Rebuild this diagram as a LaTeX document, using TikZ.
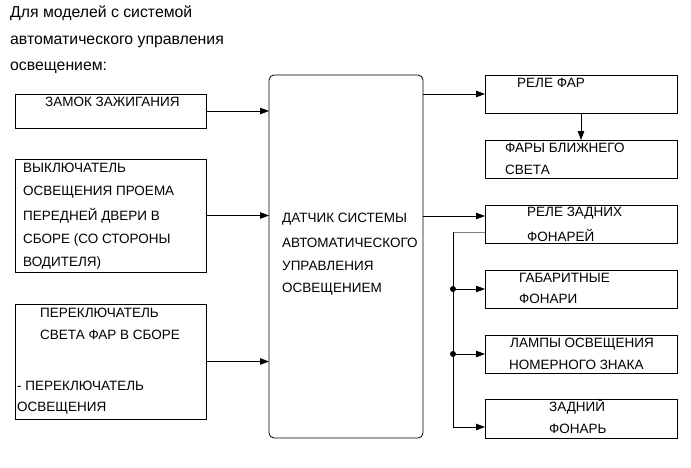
\documentclass[tikz,border=0pt]{standalone}
\usepackage{fontspec}
\setmainfont{Liberation Sans}
\usetikzlibrary{arrows.meta}
\begin{document}
\begin{tikzpicture}[x=1pt,y=-1pt,
  box/.style={draw,line width=0.8pt,rectangle,anchor=north west,inner sep=0pt,outer sep=0pt},
  txt/.style={anchor=west,inner sep=0pt,font=\fontsize{13.5}{13.5}\selectfont},
  head/.style={anchor=west,inner sep=0pt,font=\fontsize{15.8}{15.8}\selectfont},
  arr/.style={line width=0.8pt,-{Triangle[length=9pt,width=6.5pt]}},
  ln/.style={line width=0.8pt},
  dot/.style={circle,fill,inner sep=0pt,minimum size=6pt}]
\useasboundingbox (0,0) rectangle (691,467);
% header
\node[head] (h1) at (10,13) {Для моделей с системой};
\node[head] (h2) at (10,42) {автоматического управления};
\node[head] (h3) at (10,68) {освещением:};
% left boxes
\node[box,minimum width=191pt,minimum height=34pt] (b1) at (15,94) {};
\node[box,minimum width=191pt,minimum height=113pt] (b2) at (15,159) {};
\node[box,minimum width=191pt,minimum height=115pt] (b3) at (15,304) {};
% central
\node[box,rounded corners=5pt,minimum width=154pt,minimum height=363pt] (c) at (269,75) {};
% right boxes
\node[box,minimum width=192pt,minimum height=38pt] (r1) at (485,75) {};
\node[box,minimum width=192pt,minimum height=38pt] (r2) at (485,140) {};
\node[box,minimum width=192pt,minimum height=38pt] (r3) at (485,205) {};
\node[box,minimum width=192pt,minimum height=38pt] (r4) at (485,270) {};
\node[box,minimum width=192pt,minimum height=38pt] (r5) at (485,335) {};
\node[box,minimum width=192pt,minimum height=39pt] (r6) at (485,399) {};
% texts
\node[txt] (t1) at (45,102) {ЗАМОК ЗАЖИГАНИЯ};
\node[txt] (t2a) at (23,168) {ВЫКЛЮЧАТЕЛЬ};
\node[txt] (t2b) at (23,192) {ОСВЕЩЕНИЯ ПРОЕМА};
\node[txt] (t2c) at (23,216) {ПЕРЕДНЕЙ ДВЕРИ В};
\node[txt] (t2d) at (23,240) {СБОРЕ (СО СТОРОНЫ};
\node[txt] (t2e) at (23,263) {ВОДИТЕЛЯ)};
\node[txt] (t3a) at (40,313) {ПЕРЕКЛЮЧАТЕЛЬ};
\node[txt] (t3b) at (40,335) {СВЕТА ФАР В СБОРЕ};
\node[txt] (t3c) at (17,386) {- ПЕРЕКЛЮЧАТЕЛЬ};
\node[txt] (t3d) at (17,408) {ОСВЕЩЕНИЯ};
\node[txt] (tc1) at (282,219) {ДАТЧИК СИСТЕМЫ};
\node[txt] (tc2) at (282,243) {АВТОМАТИЧЕСКОГО};
\node[txt] (tc3) at (282,266) {УПРАВЛЕНИЯ};
\node[txt] (tc4) at (282,289) {ОСВЕЩЕНИЕМ};
\node[txt] (tr1) at (517,83) {РЕЛЕ ФАР};
\node[txt] (tr2a) at (505,148) {ФАРЫ БЛИЖНЕГО};
\node[txt] (tr2b) at (505,170) {СВЕТА};
\node[txt] (tr3a) at (527,213) {РЕЛЕ ЗАДНИХ};
\node[txt] (tr3b) at (527,235) {ФОНАРЕЙ};
\node[txt] (tr4a) at (519,278) {ГАБАРИТНЫЕ};
\node[txt] (tr4b) at (519,299) {ФОНАРИ};
\node[txt] (tr5a) at (510,344) {ЛАМПЫ ОСВЕЩЕНИЯ};
\node[txt] (tr5b) at (509,365) {НОМЕРНОГО ЗНАКА};
\node[txt] (tr6a) at (549,407) {ЗАДНИЙ};
\node[txt] (tr6b) at (549,429) {ФОНАРЬ};
% inputs
\draw[arr] (b1.east) -- (b1.east -| c.west);
\draw[arr] (b2.east) -- (b2.east -| c.west);
\draw[arr] (b3.east) -- (b3.east -| c.west);
% outputs
\draw[arr] (r1.west -| c.east) -- (r1.west);
\coordinate (r3in) at ([yshift=8pt]r3.west);
\draw[arr] (r3in -| c.east) -- (r3in);
\draw[arr] (r1.south) -- (r2.north);
% branch
\coordinate (r3out) at ([yshift=-8pt]r3.west);
\coordinate (jt) at (453,232);
\coordinate (r6in) at ([yshift=-8.5pt]r6.west);
\draw[ln,gray] (r3out) -- (jt);
\draw[ln] (jt) -- (jt |- r6in);
\draw[arr] (jt |- r6in) -- (r6in);
\node[dot] (d4) at (jt |- r4.west) {};
\node[dot] (d5) at (jt |- r5.west) {};
\draw[arr] (d4) -- (r4.west);
\draw[arr] (d5) -- (r5.west);
\end{tikzpicture}
\end{document}
